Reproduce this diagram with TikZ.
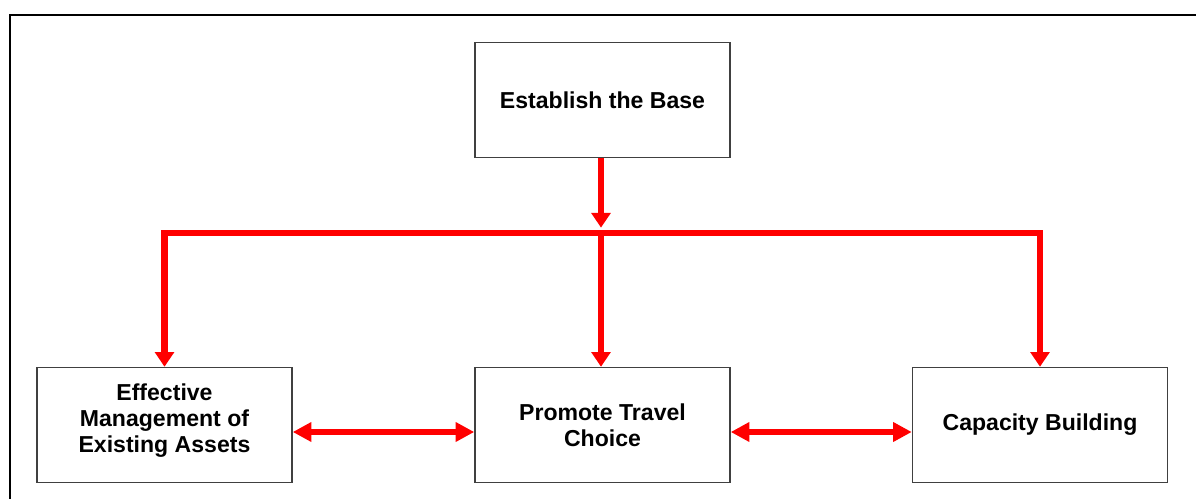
\documentclass[tikz,border=0pt]{standalone}
\usepackage{fontspec}
\setmainfont{Liberation Sans}
\usetikzlibrary{arrows.meta}
\begin{document}
\begin{tikzpicture}[x=0.75pt,y=-0.75pt,
  box/.style={draw=black!75, line width=1.1pt, minimum width=191.25pt, minimum height=86.25pt,
    align=center, font=\fontsize{17.3}{19.5}\selectfont\bfseries, inner sep=0pt},
  redline/.style={draw=red, line width=5.2pt, line join=miter},
  dtip/.tip={Triangle[length=11pt,width=14pt]},
  htip/.tip={Triangle[length=14pt,width=14pt]}]
\useasboundingbox (0,0) rectangle (1196,499);
\clip (0,0) rectangle (1196,499);
\draw[line width=1.6pt] (10,15) rectangle (1210,520);
\node[box] (top) at (602.5,100) {Establish the Base};
\node[box] (left) at (164.5,425) {Effective\\Management of\\Existing Assets\\[-9pt]\mbox{}};
\node[box] (mid) at (602.5,425) {Promote Travel\\Choice};
\node[box] (right) at (1040,425) {Capacity Building};
\coordinate (bar) at (601,233);
\draw[redline, -{dtip}] (top.south -| bar) -- ([yshift=4pt]bar);
\draw[redline, {dtip}-{dtip}] (left.north) |- (bar) -| (right.north);
\draw[redline, -{dtip}] (bar) -- (bar |- mid.north);
\draw[redline, {htip}-{htip}] (left.east |- 0,432) -- (mid.west |- 0,432);
\draw[redline, {htip}-{htip}] (mid.east |- 0,432) -- (right.west |- 0,432);
\end{tikzpicture}
\end{document}
